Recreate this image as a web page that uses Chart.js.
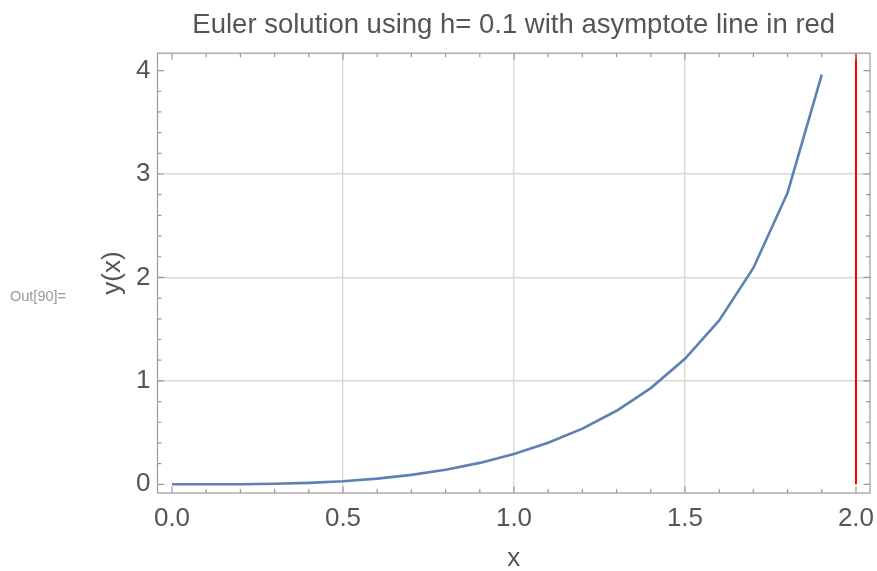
<!DOCTYPE html>
<html>
<head>
<meta charset="utf-8">
<script src="https://cdn.jsdelivr.net/npm/chart.js@4.4.1/dist/chart.umd.min.js"></script>
<style>
    html, body { margin: 0; padding: 0; background: #fff; }
    #wrap { width: 877px; height: 571px; }
</style>
</head>
<body>
<div id="wrap"><canvas id="chart" width="877" height="571"></canvas></div>
<script>
// Euler steps, h = 0.1
const xValues = [0.0, 0.1, 0.2, 0.3, 0.4, 0.5, 0.6, 0.7, 0.8, 0.9,
                 1.0, 1.1, 1.2, 1.3, 1.4, 1.5, 1.6, 1.7, 1.8, 1.9];
const yValues = [0, 0, 0.001, 0.005, 0.014, 0.030, 0.055, 0.091, 0.141, 0.207,
                 0.292, 0.401, 0.538, 0.711, 0.930, 1.213, 1.585, 2.092, 2.819, 3.96];

// asymptote (red vertical line)
const asymptoteX = [2.0, 2.0];
const asymptoteY = [0, 4.2];

const xTicks = [0, 0.5, 1.0, 1.5, 2.0];
const yTicks = [0, 1, 2, 3, 4];
const xMinorTicks = [];
for (let i = 0; i <= 20; i++) xMinorTicks.push(i / 10);
const yMinorTicks = [];
for (let i = 0; i <= 20; i++) yMinorTicks.push(i / 5);

const FONT = "'Liberation Sans', Arial, sans-serif";
const TEXT = "#555";
const FRAME = "#999";

const toPoints = (xs, ys) => xs.map((x, i) => ({ x: x, y: ys[i] }));

// frame with ticks on all four sides, plus the "Out[90]=" label
const framePlugin = {
    id: "frame",
    afterDatasetsDraw(chart) {
        const { ctx, chartArea: a, scales } = chart;
        const xs = scales.x, ys = scales.y;
        ctx.save();
        ctx.strokeStyle = FRAME;
        ctx.lineWidth = 1.2;
        ctx.strokeRect(a.left, a.top, a.right - a.left, a.bottom - a.top);

        const tick = (len, pos, horiz) => {
            ctx.beginPath();
            if (horiz) {
                ctx.moveTo(pos, a.bottom); ctx.lineTo(pos, a.bottom - len);
                ctx.moveTo(pos, a.top); ctx.lineTo(pos, a.top + len);
            } else {
                ctx.moveTo(a.left, pos); ctx.lineTo(a.left + len, pos);
                ctx.moveTo(a.right, pos); ctx.lineTo(a.right - len, pos);
            }
            ctx.stroke();
        };
        for (let v of xMinorTicks) {
            const major = xTicks.some(t => Math.abs(t - v) < 1e-9);
            tick(major ? 6.5 : 4, xs.getPixelForValue(v), true);
        }
        for (let v of yMinorTicks) {
            const major = yTicks.some(t => Math.abs(t - v) < 1e-9);
            tick(major ? 6.5 : 4, ys.getPixelForValue(v), false);
        }

        ctx.fillStyle = "#999";
        ctx.font = "14.5px " + FONT;
        ctx.textBaseline = "middle";
        ctx.textAlign = "left";
        ctx.fillText("Out[90]=", 10, 297);
        ctx.restore();
    },
};

const isInnerGrid = (list, v) => list.slice(1, -1).some(t => Math.abs(t - v) < 1e-9);

new Chart(document.getElementById("chart"), {
    type: "scatter",
    data: {
        datasets: [
            {
                label: "Euler",
                data: toPoints(xValues, yValues),
                showLine: true,
                borderColor: "#5E81B5",
                borderWidth: 2.6,
                pointRadius: 0,
                tension: 0,
            },
            {
                label: "asymptote",
                data: toPoints(asymptoteX, asymptoteY),
                showLine: true,
                borderColor: "#FF0000",
                borderWidth: 2,
                pointRadius: 0,
            },
        ],
    },
    options: {
        responsive: false,
        animation: false,
        layout: { padding: { left: 80, right: 7, top: 0, bottom: 0 } },
        plugins: {
            legend: { display: false },
            tooltip: { enabled: false },
            title: {
                display: true,
                fullSize: false,
                text: "Euler solution using h= 0.1 with asymptote line in red",
                color: TEXT,
                font: { family: FONT, size: 27.5, weight: "normal", lineHeight: 1.2 },
                padding: { top: 9, bottom: 11.2 },
            },
        },
        scales: {
            x: {
                type: "linear",
                min: -0.0424,
                max: 2.041,
                afterBuildTicks: (s) => { s.ticks = xTicks.map(v => ({ value: v })); },
                afterFit: (s) => { s.height = 78; s.paddingLeft = 0; s.paddingRight = 0; },
                ticks: {
                    color: TEXT,
                    font: { family: FONT, size: 26 },
                    padding: 10,
                    callback: (v) => Number(v).toFixed(1),
                },
                grid: {
                    drawTicks: false,
                    color: (c) => isInnerGrid(xTicks, c.tick.value) ? "#d9d9d9" : "rgba(0,0,0,0)",
                    lineWidth: 1.4,
                },
                border: { display: false },
                title: {
                    display: true,
                    text: "x",
                    color: TEXT,
                    font: { family: FONT, size: 26, lineHeight: 0.9 },
                    padding: { top: 0, bottom: 0 },
                },
            },
            y: {
                type: "linear",
                min: -0.0841,
                max: 4.168,
                afterBuildTicks: (s) => { s.ticks = yTicks.map(v => ({ value: v })); },
                afterFit: (s) => { s.width = 77.5; s.paddingTop = 0; s.paddingBottom = 0; },
                ticks: {
                    color: TEXT,
                    font: { family: FONT, size: 26 },
                    padding: 7,
                    callback: (v) => String(v),
                },
                grid: {
                    drawTicks: false,
                    color: (c) => isInnerGrid(yTicks, c.tick.value) ? "#d9d9d9" : "rgba(0,0,0,0)",
                    lineWidth: 1.4,
                },
                border: { display: false },
                title: {
                    display: true,
                    text: "y(x)",
                    color: TEXT,
                    font: { family: FONT, size: 26, lineHeight: 1 },
                    padding: { top: 19.5, bottom: 0 },
                },
            },
        },
    },
    plugins: [framePlugin],
});
</script>
</body>
</html>
